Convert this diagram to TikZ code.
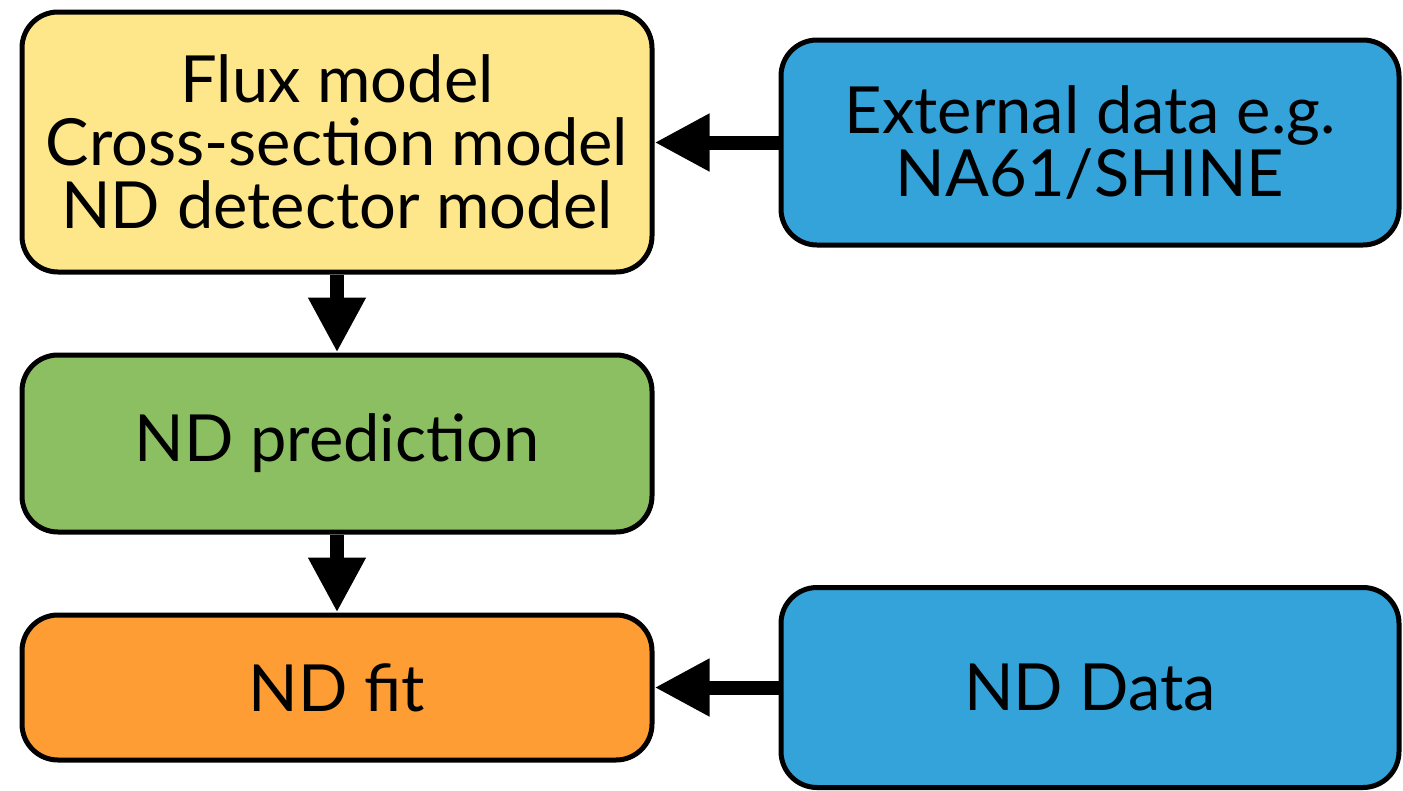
\documentclass[tikz,border=0pt]{standalone}
\usepackage{fontspec}
\setmainfont{Lato}
\usetikzlibrary{arrows.meta}
\definecolor{cyellow}{HTML}{FEE78A}
\definecolor{cgreen}{HTML}{8CBF62}
\definecolor{corange}{HTML}{FD9D34}
\definecolor{cblue}{HTML}{33A3DA}
\begin{document}
\begin{tikzpicture}[x=1pt,y=-1pt,
  box/.style={draw=black,line width=5pt,rounded corners=36pt,align=center,inner sep=0pt,
    font=\fontsize{65}{63}\selectfont},
  conn/.style={line width=14pt,-{Triangle[length=55pt,width=54pt]}}]
\useasboundingbox (0,0) rectangle (1403,790);
\node[box,fill=cyellow,minimum width=630pt,minimum height=260pt] (flux) at (337,142) {Flux model\\Cross-section model\\ND detector model};
\node[box,fill=cgreen,minimum width=630pt,minimum height=177pt] (pred) at (337,443.5) {ND prediction};
\node[box,fill=corange,minimum width=630pt,minimum height=145pt] (fit) at (337,687.5) {ND fit};
\node[box,fill=cblue,minimum width=618pt,minimum height=205pt] (ext) at (1090,142.5) {External data e.g.\\NA61/SHINE};
\node[box,fill=cblue,minimum width=618pt,minimum height=200pt] (data) at (1090,687.5) {ND Data};
\draw[conn] (flux.south) -- (pred.north);
\draw[conn] (pred.south) -- (fit.north);
\draw[conn] (ext.west) -- (flux.east |- ext.west);
\draw[conn] (data.west) -- (fit.east |- data.west);
\end{tikzpicture}
\end{document}
